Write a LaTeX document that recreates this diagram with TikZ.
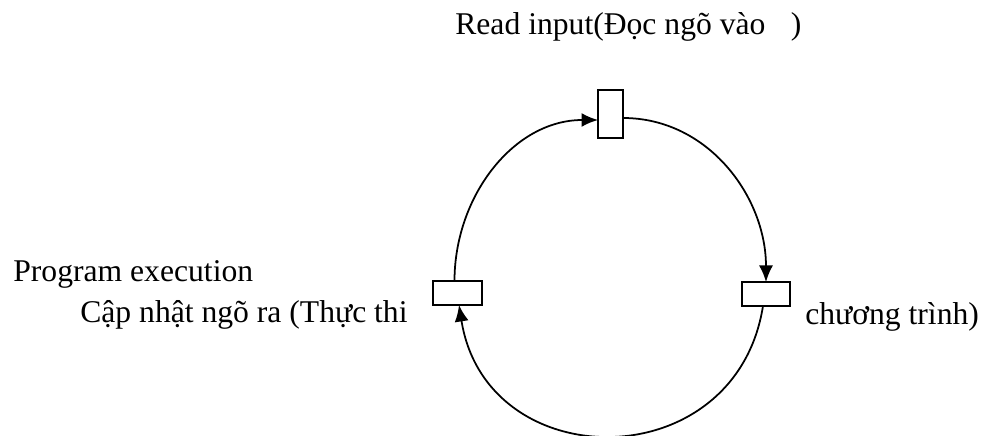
\documentclass[tikz,border=0pt]{standalone}
\usepackage{fontspec}
\setmainfont{Liberation Serif}
\usetikzlibrary{arrows.meta}

\begin{document}
\begin{tikzpicture}[
  procbox/.style={draw, line width=1.1pt, fill=white, inner sep=0pt, outer sep=0pt},
  flow/.style={line width=1pt, -{Latex[length=0.33cm, width=0.28cm]}},
  lbl/.style={anchor=base west, inner sep=0pt, font=\fontsize{18}{21}\selectfont}
]
\useasboundingbox (0,0) rectangle (19.82,8.72);

\node[procbox, minimum width=0.5cm, minimum height=0.96cm] (topbox) at (12.21,6.44) {};
\node[procbox, minimum width=0.96cm, minimum height=0.48cm] (rightbox) at (15.32,2.84) {};
\node[procbox, minimum width=0.98cm, minimum height=0.48cm] (leftbox) at (9.15,2.86) {};

\node[lbl] (readlbl) at (9.10,8.02) {Read input(Đọc ngõ vào\hspace{0.8em})};
\node[lbl] (proglbl) at (0.26,3.08) {Program execution};
\node[lbl] (updlbl) at (1.60,2.26) {Cập nhật ngõ ra (Thực thi};
\node[lbl] (chuonglbl) at (16.10,2.22) {chương trình)};

\draw[flow] ([xshift=-0.06cm]leftbox.north) to[out=90, in=180] ([yshift=-0.12cm]topbox.west);
\draw[flow] ([yshift=-0.08cm]topbox.east) to[out=0, in=90] (rightbox.north);
\draw[flow] ([xshift=-0.06cm]rightbox.south) to[out=-99, in=-81, looseness=1.47] ([xshift=0.03cm]leftbox.south);
\end{tikzpicture}
\end{document}
